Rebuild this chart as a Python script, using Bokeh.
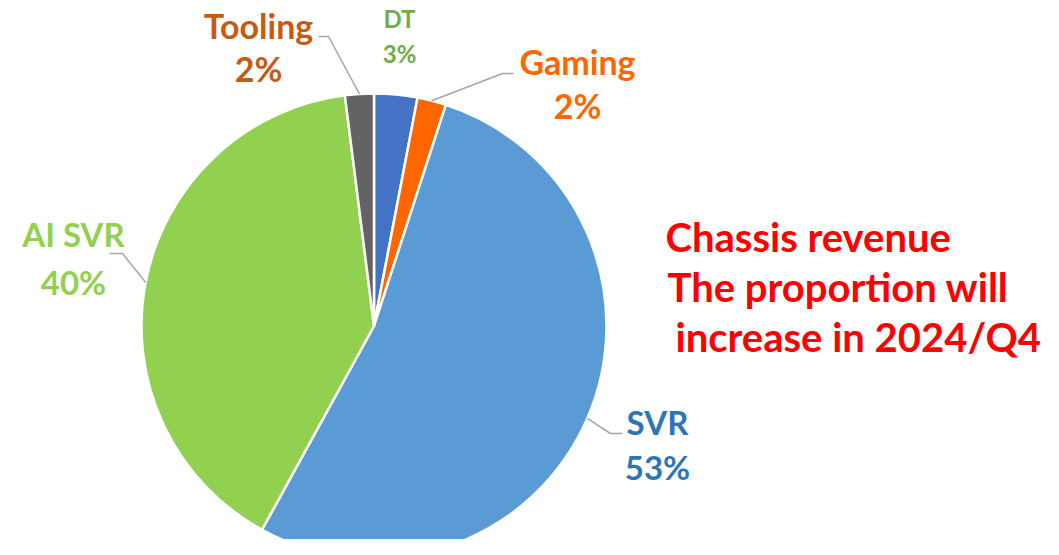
import math
from bokeh.plotting import figure
from bokeh.models import Range1d
from bokeh.embed import file_html
from bokeh.resources import INLINE
from bokeh.core.properties import value

# ---- data ----
categories = ["DT", "Gaming", "SVR", "AI SVR", "Tooling"]
shares = [3, 2, 53, 40, 2]
slice_colors = ["#4472C4", "#FF6600", "#5B9BD5", "#92D050", "#636363"]
label_colors = ["#70AD47", "#FF6600", "#2E75B6", "#92D050", "#C55A11"]
note_lines = ["Chassis revenue", "The proportion will", "increase in 2024/Q4"]

# ---- layout (reference pixel coordinates) ----
W, H = 1043, 539
CX, CY, R = 373.5, 325.5, 232.5
FONT = "Lato"

def Y(ry):
    return 555 - ry

p = figure(width=W, height=H, x_range=Range1d(0, W), y_range=Range1d(555 - H, 555),
           output_backend="svg", toolbar_location=None, min_border=0)
p.axis.visible = False
p.grid.visible = False
p.outline_line_color = None
p.background_fill_color = "white"
p.border_fill_color = "white"

total = sum(shares)
cum = 0.0
mids = {}
for cat, v, col in zip(categories, shares, slice_colors):
    t0 = cum / total * 2 * math.pi
    cum += v
    t1 = cum / total * 2 * math.pi
    mids[cat] = (t0 + t1) / 2
    p.wedge(x=[CX], y=[Y(CY)], radius=R, start_angle=math.pi / 2 - t1,
            end_angle=math.pi / 2 - t0, direction="anticlock",
            fill_color=col, line_color="white", line_width=2.5)

# leader lines: elbow and end points (layout)
leader_pts = {
    "Tooling": [(328, 36), (318, 36)],
    "Gaming": [(502, 73), (513, 73)],
    "AI SVR": [(122, 253), (109, 253)],
    "SVR": [(610, 433), (622, 433)],
}
for cat, pts in leader_pts.items():
    m = mids[cat]
    sx = CX + R * math.sin(m)
    sy = CY - R * math.cos(m)
    xs = [sx] + [q[0] for q in pts]
    ys = [Y(sy)] + [Y(q[1]) for q in pts]
    p.line(xs, ys, line_color="#A6A6A6", line_width=1.5)

# label positions: center x, baseline of name, baseline of percent, font size (px)
label_pos = {
    "DT": (399, 28, 63, 24),
    "Gaming": (577, 75, 119, 34),
    "SVR": (657, 435, 480, 33),
    "AI SVR": (73, 247, 295, 33),
    "Tooling": (258, 39, 82, 34),
}

def base_adj(fs):
    return 0.41 * fs

for cat, v, lc in zip(categories, shares, label_colors):
    x, b1, b2, fs = label_pos[cat]
    d = base_adj(fs)
    p.text(x=[x, x], y=[Y(b1 - d), Y(b2 - d)], text=[cat, f"{v}%"], text_color=lc,
           text_font=value(FONT), text_font_style="bold", text_font_size=f"{fs}px",
           text_align="center", text_baseline="alphabetic")

# annotation
note_x = [665, 667, 675]
note_base = [253, 303, 353]
nfs = 40
p.text(x=note_x, y=[Y(b - base_adj(nfs)) for b in note_base], text=note_lines,
       text_color="#FF0000", text_font=value(FONT), text_font_style="bold",
       text_font_size=f"{nfs}px", text_align="left", text_baseline="alphabetic")

open("out.html", "w").write(file_html(p, INLINE))
